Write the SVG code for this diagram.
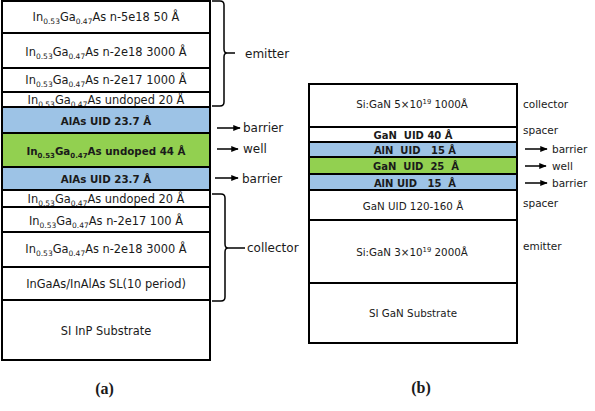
<svg xmlns="http://www.w3.org/2000/svg" width="595" height="411" viewBox="0 0 595 411">
<defs>
<style>
.l{stroke:#000;stroke-width:2;fill:#fff}
.b{fill:#9DC3E6}
.g{fill:#92D050}
text{font-family:"DejaVu Sans","Liberation Sans",sans-serif;fill:#1a1a1a}
.t{font-size:11.4px;text-anchor:middle}
.tb{font-size:10.3px;font-weight:bold;text-anchor:middle}
.r{font-size:10.3px;text-anchor:middle}
.rb{font-size:10px;font-weight:bold;text-anchor:middle}
.lab{font-size:12px}
.rlab{font-size:10.5px}
.cap{font-family:"Liberation Serif","DejaVu Serif",serif;font-size:16px;font-weight:bold;text-anchor:middle}
.c{stroke:#000;stroke-width:1.5;fill:none}
</style>
<marker id="ah" viewBox="0 0 10 10" refX="9" refY="5" markerWidth="5" markerHeight="5" orient="auto" markerUnits="strokeWidth">
<path d="M0,1 L10,5 L0,9 Z" fill="#000"/>
</marker>
</defs>
<rect width="595" height="411" fill="#fff"/>

<!-- Stack (a) -->
<g id="a1"><rect class="l" x="2" y="1" width="208" height="32"/><text class="t" x="106" y="21">In<tspan font-size="7.5" dy="3">0.53</tspan><tspan dy="-3">Ga</tspan><tspan font-size="7.5" dy="3">0.47</tspan><tspan dy="-3">As n-5e18 50 Å</tspan></text></g>
<g id="a2"><rect class="l" x="2" y="33" width="208" height="35"/><text class="t" x="106" y="56">In<tspan font-size="7.5" dy="3">0.53</tspan><tspan dy="-3">Ga</tspan><tspan font-size="7.5" dy="3">0.47</tspan><tspan dy="-3">As n-2e18 3000 Å</tspan></text></g>
<g id="a3"><rect class="l" x="2" y="68" width="208" height="24"/><text class="t" x="106" y="84">In<tspan font-size="7.5" dy="3">0.53</tspan><tspan dy="-3">Ga</tspan><tspan font-size="7.5" dy="3">0.47</tspan><tspan dy="-3">As n-2e17 1000 Å</tspan></text></g>
<g id="a4"><rect class="l" x="2" y="92" width="208" height="15"/><text class="t" x="106" y="104">In<tspan font-size="7.5" dy="3">0.53</tspan><tspan dy="-3">Ga</tspan><tspan font-size="7.5" dy="3">0.47</tspan><tspan dy="-3">As undoped 20 Å</tspan></text></g>
<g id="a5"><rect class="l b" x="2" y="107" width="208" height="26"/><text class="tb" x="106" y="125">AlAs UID 23.7 Å</text></g>
<g id="a6"><rect class="l g" x="2" y="133" width="208" height="34"/><text class="tb" x="106" y="155">In<tspan font-size="7" dy="3">0.53</tspan><tspan dy="-3">Ga</tspan><tspan font-size="7" dy="3">0.47</tspan><tspan dy="-3">As undoped 44 Å</tspan></text></g>
<g id="a7"><rect class="l b" x="2" y="167" width="208" height="23"/><text class="tb" x="106" y="183">AlAs UID 23.7 Å</text></g>
<g id="a8"><rect class="l" x="2" y="190" width="208" height="17"/><text class="t" x="106" y="203">In<tspan font-size="7.5" dy="3">0.53</tspan><tspan dy="-3">Ga</tspan><tspan font-size="7.5" dy="3">0.47</tspan><tspan dy="-3">As undoped 20 Å</tspan></text></g>
<g id="a9"><rect class="l" x="2" y="207" width="208" height="25"/><text class="t" x="106" y="225">In<tspan font-size="7.5" dy="3">0.53</tspan><tspan dy="-3">Ga</tspan><tspan font-size="7.5" dy="3">0.47</tspan><tspan dy="-3">As n-2e17 100 Å</tspan></text></g>
<g id="a10"><rect class="l" x="2" y="232" width="208" height="35"/><text class="t" x="106" y="253">In<tspan font-size="7.5" dy="3">0.53</tspan><tspan dy="-3">Ga</tspan><tspan font-size="7.5" dy="3">0.47</tspan><tspan dy="-3">As n-2e18 3000 Å</tspan></text></g>
<g id="a11"><rect class="l" x="2" y="267" width="208" height="33"/><text class="t" x="106" y="288">InGaAs/InAlAs SL(10 period)</text></g>
<g id="a12"><rect class="l" x="2" y="300" width="208" height="60"/><text class="t" x="106" y="335">SI InP Substrate</text></g>

<!-- Stack (b) -->
<g id="b1"><rect class="l" x="309" y="84" width="208" height="43"/><text class="r" x="412" y="108">Si:GaN 5×10<tspan font-size="6.8" dy="-4">19</tspan><tspan dy="4"> 1000Å</tspan></text></g>
<g id="b2"><rect class="l" x="309" y="127" width="208" height="15"/><text class="rb" x="413" y="139" xml:space="preserve">GaN  UID 40 Å</text></g>
<g id="b3"><rect class="l b" x="309" y="142" width="208" height="15"/><text class="rb" x="415" y="154" xml:space="preserve">AlN  UID   15 Å</text></g>
<g id="b4"><rect class="l g" x="309" y="157" width="208" height="17"/><text class="rb" x="416" y="170" xml:space="preserve">GaN  UID  25  Å</text></g>
<g id="b5"><rect class="l b" x="309" y="174" width="208" height="16"/><text class="rb" x="415" y="187" xml:space="preserve">AlN UID   15  Å</text></g>
<g id="b6"><rect class="l" x="309" y="190" width="208" height="30"/><text class="r" x="413" y="210">GaN UID 120-160 Å</text></g>
<g id="b7"><rect class="l" x="309" y="220" width="208" height="63"/><text class="r" x="412" y="256">Si:GaN 3×10<tspan font-size="6.8" dy="-4">19</tspan><tspan dy="4"> 2000Å</tspan></text></g>
<g id="b8"><rect class="l" x="309" y="283" width="208" height="60"/><text class="r" x="413" y="317">SI GaN Substrate</text></g>

<!-- Connectors: braces and arrows -->
<g id="connectors">
<path class="c" d="M212,1 L220,1 Q224,1 224,5 L224,49 Q224,53 227,53 Q224,53 224,57 L224,102 Q224,106 220,106 L212,106"/>
<path class="c" d="M227,53 L235,53"/>
<path class="c" d="M212,194 L221,194 Q225,194 225,198 L225,244 Q225,248 228,248 Q225,248 225,252 L225,297 Q225,301 221,301 L212,301"/>
<path class="c" d="M228,248 L245,248"/>
<line class="c" x1="217" y1="128" x2="240" y2="128" marker-end="url(#ah)"/>
<line class="c" x1="217" y1="149" x2="238" y2="149" marker-end="url(#ah)"/>
<line class="c" x1="215" y1="178" x2="238" y2="178" marker-end="url(#ah)"/>
<line class="c" x1="525" y1="149" x2="547" y2="149" marker-end="url(#ah)"/>
<line class="c" x1="525" y1="166" x2="546" y2="166" marker-end="url(#ah)"/>
<line class="c" x1="525" y1="183" x2="547" y2="183" marker-end="url(#ah)"/>
</g>

<!-- Labels -->
<g id="labels-a">
<text class="lab" x="245" y="58">emitter</text>
<text class="lab" x="243" y="132">barrier</text>
<text class="lab" x="243" y="153">well</text>
<text class="lab" x="242" y="183">barrier</text>
<text class="lab" x="247" y="252">collector</text>
</g>
<g id="labels-b">
<text class="rlab" x="523" y="108">collector</text>
<text class="rlab" x="523" y="134">spacer</text>
<text class="rlab" x="552" y="153">barrier</text>
<text class="rlab" x="552" y="170">well</text>
<text class="rlab" x="552" y="187">barrier</text>
<text class="rlab" x="523" y="207">spacer</text>
<text class="rlab" x="523" y="250">emitter</text>
</g>
<text class="cap" x="104.5" y="394">(a)</text>
<text class="cap" x="421" y="393">(b)</text>
</svg>
